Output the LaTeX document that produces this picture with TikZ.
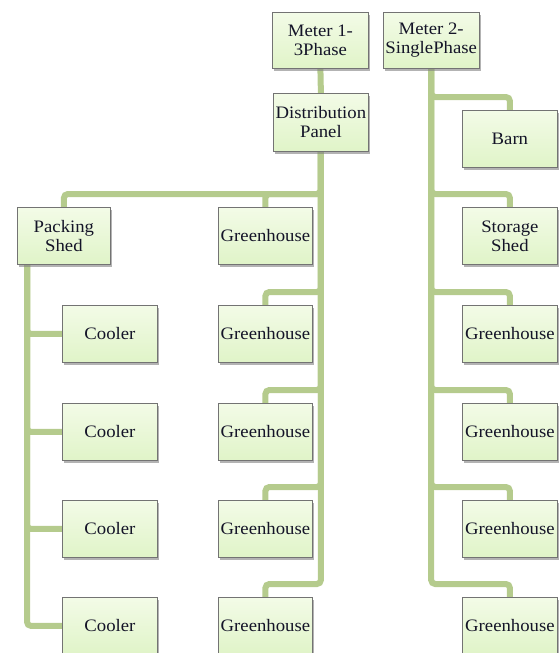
\documentclass[tikz,border=0pt]{standalone}
\usepackage{fontspec}
\setmainfont{Liberation Serif}[FakeStretch=1.07]
\usetikzlibrary{shadows,backgrounds,calc}

\definecolor{boxtop}{RGB}{243,251,231}
\definecolor{boxbottom}{RGB}{224,244,200}
\definecolor{boxline}{RGB}{115,115,115}
\definecolor{wirecol}{RGB}{181,203,141}
\definecolor{inkcol}{RGB}{20,20,40}

\tikzset{
  unit/.style={draw=boxline, line width=0.8pt, top color=boxtop, bottom color=boxbottom,
    minimum width=95pt, minimum height=57pt, anchor=north west, inner sep=2pt,
    align=center, text=inkcol, font=\fontsize{17.5}{19}\selectfont,
    drop shadow={shadow xshift=2pt, shadow yshift=-3pt, opacity=0.6}},
  wire/.style={draw=wirecol, line width=6pt, rounded corners=4pt}
}

\begin{document}
\begin{tikzpicture}[x=1pt,y=-1pt]
\useasboundingbox (0,0) rectangle (558,653);

% Zaehler und Verteiler

\node[unit, minimum width=96pt, minimum height=56pt] (meterA) at (272,12) {Meter 1-\\3Phase};
\node[unit, minimum height=56pt] (meterB) at (383,12) {Meter 2-\\SinglePhase};
\node[unit, minimum height=58pt] (panel) at (273,93) {Distribution\\Panel};

% linke Spalte

\node[unit, minimum width=93pt] (shed) at (17,207) {Packing\\Shed};
\node[unit] (cool1) at (62,305) {Cooler};
\node[unit] (cool2) at (62,403) {Cooler};
\node[unit] (cool3) at (62,500) {Cooler};
\node[unit] (cool4) at (62,597) {Cooler};

% mittlere Spalte

\node[unit, minimum width=94pt] (mid1) at (218,207) {Greenhouse};
\node[unit, minimum width=94pt] (mid2) at (218,305) {Greenhouse};
\node[unit, minimum width=94pt] (mid3) at (218,403) {Greenhouse};
\node[unit, minimum width=94pt] (mid4) at (218,500) {Greenhouse};
\node[unit, minimum width=94pt] (mid5) at (218,597) {Greenhouse};

% rechte Spalte

\node[unit] (right1) at (462,110) {Barn};
\node[unit] (right2) at (462,207) {Storage\\Shed};
\node[unit] (right3) at (462,305) {Greenhouse};
\node[unit] (right4) at (462,403) {Greenhouse};
\node[unit] (right5) at (462,500) {Greenhouse};
\node[unit] (right6) at (462,597) {Greenhouse};

% Leitungen

\begin{scope}[on background layer]
\draw[wire] (meterA.south) -- (panel.north);
\draw[wire] (panel.south) |- ([yshift=13pt]shed.north) -- (shed.north);
\draw[wire] (panel.south) |- ([yshift=13pt]mid1.north) -- (mid1.north);
\foreach \i in {2,...,5}
  \draw[wire] (panel.south) |- ([yshift=13pt]mid\i.north) -- (mid\i.north);

\coordinate (shedtail) at ([xshift=10pt]shed.south west);
\foreach \i in {1,...,4}
  \draw[wire] (shedtail) |- (cool\i.west);

\foreach \i in {1,...,6}
  \draw[wire] (meterB.south) |- ([yshift=13pt]right\i.north) -- (right\i.north);
\end{scope}

\end{tikzpicture}
\end{document}
